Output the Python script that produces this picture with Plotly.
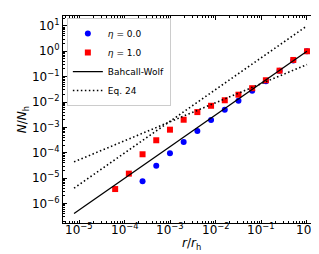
import math
import plotly.graph_objects as go

# ---- data ----
# eta = 1.0 (red squares), r/r_h = 2^-14 ... 2^0
r_eta1 = [2**-14, 2**-13, 2**-12, 2**-11, 2**-10, 2**-9, 2**-8, 2**-7,
          2**-6, 2**-5, 2**-4, 2**-3, 2**-2, 2**-1, 1.0]
N_eta1 = [3.7e-6, 1.5e-5, 8.7e-5, 3.1e-4, 8.1e-4, 2.0e-3, 4.0e-3, 7.1e-3,
          1.17e-2, 1.94e-2, 3.5e-2, 7.2e-2, 0.172, 0.454, 1.0]

# eta = 0.0 (blue circles), r/r_h = 2^-12 ... 2^0
r_eta0 = [2**-12, 2**-11, 2**-10, 2**-9, 2**-8, 2**-7, 2**-6, 2**-5,
          2**-4, 2**-3, 2**-2, 2**-1, 1.0]
N_eta0 = [7.5e-6, 3.1e-5, 9.5e-5, 2.65e-4, 7.2e-4, 1.96e-3, 4.9e-3, 1.12e-2,
          2.8e-2, 6.6e-2, 0.17, 0.43, 1.0]

# power-law guide lines (end points)
r_line = [2**-17, 1.0]
N_bw = [4.01e-7, 1.0]          # Bahcall-Wolf
N_eq24a = [4.01e-6, 10.0]      # Eq. 24 (steep branch)
N_eq24b = [4.36e-5, 0.3]       # Eq. 24 (shallow branch)

x_tickvals = [1e-5, 1e-4, 1e-3, 1e-2, 1e-1, 1e0]
x_ticktext = ["10<sup>−5</sup>", "10<sup>−4</sup>", "10<sup>−3</sup>",
              "10<sup>−2</sup>", "10<sup>−1</sup>", "10<sup>0</sup>"]
y_tickvals = [1e-6, 1e-5, 1e-4, 1e-3, 1e-2, 1e-1, 1e0, 1e1]
y_ticktext = ["10<sup>−6</sup>", "10<sup>−5</sup>", "10<sup>−4</sup>",
              "10<sup>−3</sup>", "10<sup>−2</sup>", "10<sup>−1</sup>",
              "10<sup>0</sup>", "10<sup>1</sup>"]

FONT = "DejaVu Sans"
DOT = "1.5px,2.5px"

fig = go.Figure()
fig.add_trace(go.Scatter(x=r_eta0, y=N_eta0, mode="markers",
                         marker=dict(symbol="circle", size=6, color="blue"),
                         name="<i>η</i> = 0.0"))
fig.add_trace(go.Scatter(x=r_eta1, y=N_eta1, mode="markers",
                         marker=dict(symbol="square", size=6, color="red"),
                         name="<i>η</i> = 1.0"))
fig.add_trace(go.Scatter(x=r_line, y=N_bw, mode="lines",
                         line=dict(color="black", width=1.3),
                         name="Bahcall-Wolf"))
fig.add_trace(go.Scatter(x=r_line, y=N_eq24a, mode="lines",
                         line=dict(color="black", width=1.6, dash=DOT),
                         name="Eq. 24", legendgroup="eq24"))
fig.add_trace(go.Scatter(x=r_line, y=N_eq24b, mode="lines",
                         line=dict(color="black", width=1.6, dash=DOT),
                         name="Eq. 24", legendgroup="eq24", showlegend=False))

axis_common = dict(
    type="log", showgrid=False, zeroline=False,
    showline=True, linecolor="black", linewidth=1, mirror="ticks",
    ticks="inside", ticklen=3.5, tickwidth=1, tickcolor="black",
    tickfont=dict(family=FONT, size=12, color="black"),
    minor=dict(ticks="inside", ticklen=2, tickwidth=0.6, tickcolor="black",
               dtick="D1", showgrid=False),
)

fig.update_xaxes(**axis_common, range=[-5.36, 0.286],
                 tickmode="array", tickvals=x_tickvals, showticklabels=False)
fig.update_yaxes(**axis_common, range=[-6.77, 1.39],
                 tickmode="array", tickvals=y_tickvals, ticktext=y_ticktext,
                 title=dict(text="<i>N</i>/<i>N</i><sub>h</sub>",
                            font=dict(family=FONT, size=12, color="black"),
                            standoff=2))

# x tick labels placed just below the axis (matplotlib-like spacing)
for v, t in zip(x_tickvals, x_ticktext):
    fig.add_annotation(x=math.log10(v), y=0.015, xref="x", yref="paper",
                       text=t, showarrow=False, xanchor="center",
                       yanchor="top", borderpad=0,
                       font=dict(family=FONT, size=12, color="black"))
# x axis title
fig.add_annotation(x=0.5, y=-0.10, xref="paper", yref="paper",
                   text="<i>r</i>/<i>r</i><sub>h</sub>", showarrow=False,
                   xanchor="center", yanchor="middle",
                   font=dict(family=FONT, size=12, color="black"))

fig.update_layout(
    width=319, height=254,
    margin=dict(l=55, r=7, t=8, b=39, autoexpand=False),
    paper_bgcolor="white", plot_bgcolor="white",
    font=dict(family=FONT, size=9, color="black"),
    showlegend=True,
    legend=dict(x=0.015, y=0.99, xanchor="left", yanchor="top",
                bgcolor="white", bordercolor="#cccccc", borderwidth=1,
                font=dict(family=FONT, size=9, color="black"),
                itemwidth=30, tracegroupgap=0),
)

fig.write_html("out.html")
